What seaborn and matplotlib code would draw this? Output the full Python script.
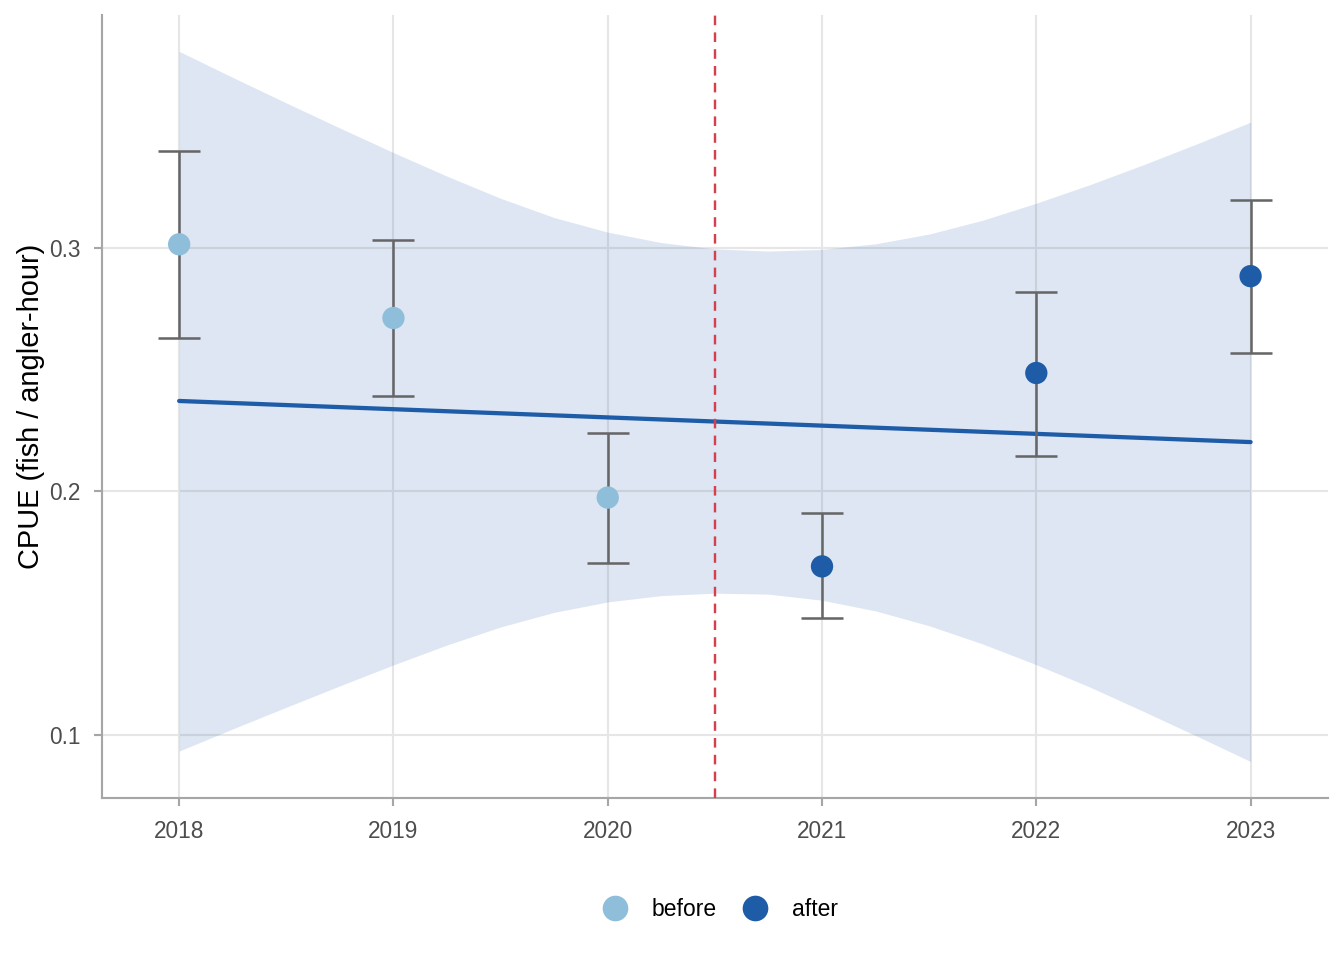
import numpy as np
import pandas as pd
import matplotlib
matplotlib.use("Agg")
import matplotlib.pyplot as plt
import seaborn as sns

# data
years = [2018, 2019, 2020, 2021, 2022, 2023]
cpue = [0.3016, 0.2713, 0.1975, 0.1692, 0.2487, 0.2885]
ci_low = [0.2630, 0.2392, 0.1704, 0.1479, 0.2146, 0.2569]
ci_high = [0.3398, 0.3033, 0.2242, 0.1910, 0.2819, 0.3197]
period = ["before", "before", "before", "after", "after", "after"]

# fitted trend and its band (edges read every quarter year)
fit_years = [2018, 2023]
fit_cpue = [0.2372, 0.2203]
band_years = [2018, 2018.25, 2018.5, 2018.75, 2019, 2019.25, 2019.5, 2019.75, 2020, 2020.25, 2020.5,
              2020.75, 2021, 2021.25, 2021.5, 2021.75, 2022, 2022.25, 2022.5, 2022.75, 2023]
band_upper = [0.3809, 0.3702, 0.3597, 0.3494, 0.3393, 0.3296, 0.3205, 0.3126, 0.3066, 0.3023, 0.2997,
              0.2988, 0.2995, 0.3018, 0.3058, 0.3115, 0.3185, 0.3261, 0.3343, 0.3429, 0.3518]
band_lower = [0.0933, 0.1024, 0.1113, 0.1201, 0.1287, 0.1369, 0.1443, 0.1503, 0.1546, 0.1572, 0.1582,
              0.1578, 0.1553, 0.1509, 0.1448, 0.1373, 0.1288, 0.1196, 0.1096, 0.0994, 0.0890]
change_year = 2020.5

df = pd.DataFrame({"year": years, "cpue": cpue, "lo": ci_low, "hi": ci_high, "period": period})
fit = pd.DataFrame({"year": fit_years, "cpue": fit_cpue})

sns.set_theme(style="white")
plt.rcParams["font.family"] = ["Liberation Sans", "DejaVu Sans"]

fig = plt.figure(figsize=(7, 5), dpi=192)
ax = fig.add_axes([0.0759, 0.169, 0.912, 0.815])

line_col = "#1f5ca8"
colors = {"before": "#8fbedb", "after": "#1f5ca8"}

ax.fill_between(band_years, band_lower, band_upper, color=line_col, alpha=0.15, lw=0, zorder=1)
sns.lineplot(data=fit, x="year", y="cpue", color=line_col, lw=1.6, ax=ax, zorder=3)
ax.axvline(change_year, color="#d6404e", lw=0.9, ls=(0, (4, 3)), zorder=4)
ax.errorbar(df["year"], df["cpue"], yerr=[df["cpue"] - df["lo"], df["hi"] - df["cpue"]],
            fmt="none", ecolor="#666666", elinewidth=0.95, capsize=7.9, capthick=0.95, zorder=5)
sns.scatterplot(data=df, x="year", y="cpue", hue="period", palette=colors,
                s=70, edgecolor="none", ax=ax, zorder=6)

ax.set_xlim(2017.64, 2023.36)
ax.set_ylim(0.0741, 0.3957)
ax.set_xticks(years)
ax.set_xticklabels([str(y) for y in years])
ax.set_yticks([0.1, 0.2, 0.3])
ax.set_yticklabels(["0.1", "0.2", "0.3"])

ax.grid(True, color="#e6e6e6", lw=0.8)
ax.set_axisbelow(True)
for side in ["top", "right"]:
    ax.spines[side].set_visible(False)
for side in ["left", "bottom"]:
    ax.spines[side].set_color("#a6a6a6")
    ax.spines[side].set_linewidth(0.8)
ax.tick_params(axis="both", which="major", length=3, width=0.8, color="#a6a6a6",
               labelsize=8.5, labelcolor="#4d4d4d", pad=5.2, bottom=True, left=True)

ax.set_xlabel("")
ax.set_ylabel("CPUE (fish / angler-hour)", fontsize=10.9, color="black", labelpad=1.5)

sns.move_legend(ax, "center", bbox_to_anchor=(0.5, -0.143), ncol=2, title=None,
                frameon=False, fontsize=8.6, handletextpad=0.6, columnspacing=0.7,
                markerscale=1.15)
for t in ax.get_legend().get_texts():
    t.set_color("black")

fig.savefig("out.png", dpi=192)
